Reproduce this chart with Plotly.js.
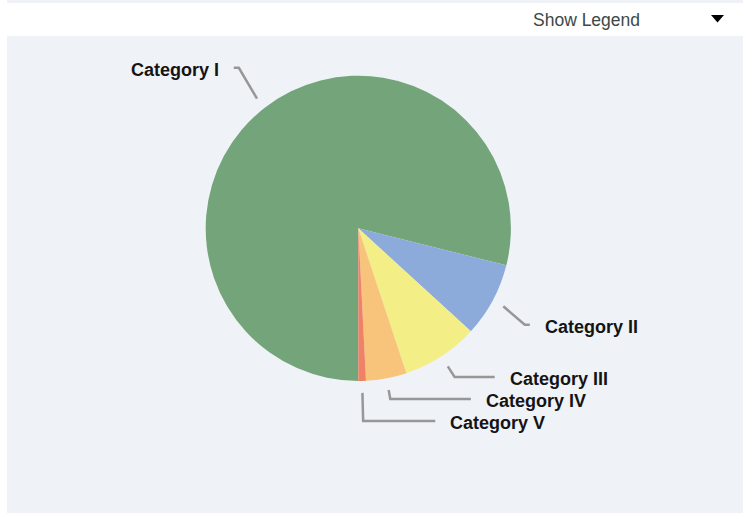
<!DOCTYPE html>
<html>
<head>
<meta charset="utf-8">
<script src="https://cdn.plot.ly/plotly-3.0.1.min.js"></script>
<style>
  html, body { margin: 0; padding: 0; background: #ffffff; }
  #chart { width: 743px; height: 513px; }
</style>
</head>
<body>
<div id="chart"></div>
<script>
// ---- data ----
const categories = ['Category I', 'Category II', 'Category III', 'Category IV', 'Category V'];
const values = [78.9, 7.9, 8.1, 4.3, 0.8];
const sliceColors = ['#74a47a', '#8dabda', '#f3ef86', '#f8c37a', '#ef8266'];

// ---- geometry / style ----
const W = 743, H = 513;
const cx = 358.3, cy = 228.3, R = 152.6;
const startAngle = 180;          // first slice starts at 6 o'clock, clockwise
const lineGap = 12, naturalOff = 51, minSpacing = 22;
const ellA = 193, ellB = 210, stub = 5, textGap = 13;
const lineColor = '#979797';

const px = x => x / W;
const py = y => 1 - y / H;

// compute label layout from data
const total = values.reduce((a, b) => a + b, 0);
let cum = 0;
const items = values.map((v, i) => {
  const mid = startAngle + (cum + v / 2) / total * 360;
  cum += v;
  const t = mid * Math.PI / 180;
  const ux = Math.sin(t), uy = -Math.cos(t);
  return { i, ux, uy, side: ux >= 0 ? 1 : -1, y: cy + (R + naturalOff) * uy };
});
const yMin = cy - R - 40, yMax = cy + R + 40;
[1, -1].forEach(side => {
  const list = items.filter(o => o.side === side).sort((a, b) => a.y - b.y);
  for (let k = 0; k < list.length; k++) {
    if (k === 0) list[k].y = Math.max(list[k].y, yMin);
    else list[k].y = Math.max(list[k].y, list[k - 1].y + minSpacing);
  }
  for (let k = list.length - 1; k >= 0; k--) {
    if (k === list.length - 1) list[k].y = Math.min(list[k].y, yMax);
    else list[k].y = Math.min(list[k].y, list[k + 1].y - minSpacing);
  }
});

const shapes = [
  { type: 'rect', xref: 'paper', yref: 'paper', x0: px(7), x1: 1, y0: py(3), y1: 1,
    fillcolor: '#eff2f7', line: { width: 0 }, layer: 'below' },
  { type: 'rect', xref: 'paper', yref: 'paper', x0: px(7), x1: 1, y0: 0, y1: py(36),
    fillcolor: '#eff2f7', line: { width: 0 }, layer: 'below' },
  { type: 'path', xref: 'paper', yref: 'paper',
    path: `M ${px(711)} ${py(15)} L ${px(724)} ${py(15)} L ${px(717.5)} ${py(22.5)} Z`,
    fillcolor: '#000000', line: { width: 0 } }
];
const annotations = [
  { xref: 'paper', yref: 'paper', x: px(531), y: py(20), xanchor: 'left', yanchor: 'middle',
    text: 'Show Legend', showarrow: false,
    font: { family: 'Liberation Sans, Arial, sans-serif', size: 17.5, color: '#3d4848' } }
];

items.forEach(o => {
  const p1x = cx + (R + lineGap) * o.ux, p1y = cy + (R + lineGap) * o.uy;
  const dy = o.y - cy;
  const ex = cx + o.side * ellA * Math.sqrt(Math.max(0, 1 - (dy / ellB) * (dy / ellB)));
  let bx = Math.abs(o.uy) > 0.02 ? cx + (dy / o.uy) * o.ux : p1x;
  if (o.side > 0) bx = Math.min(bx, ex - stub); else bx = Math.max(bx, ex + stub);
  shapes.push({
    type: 'path', xref: 'paper', yref: 'paper',
    path: `M ${px(p1x)} ${py(p1y)} L ${px(bx)} ${py(o.y)} L ${px(ex)} ${py(o.y)}`,
    line: { color: lineColor, width: 2.5 }
  });
  annotations.push({
    xref: 'paper', yref: 'paper', x: px(ex + o.side * textGap), y: py(o.y),
    xanchor: o.side > 0 ? 'left' : 'right', yanchor: 'middle', yshift: -2,
    text: '<b>' + categories[o.i] + '</b>', showarrow: false,
    font: { family: 'Liberation Sans, Arial, sans-serif', size: 18, color: '#141414' }
  });
});

const trace = {
  type: 'pie',
  labels: categories,
  values: values,
  sort: false,
  direction: 'clockwise',
  rotation: startAngle,
  marker: { colors: sliceColors, line: { width: 0 } },
  textinfo: 'none',
  hoverinfo: 'label+percent',
  showlegend: false,
  domain: { x: [px(cx - R), px(cx + R)], y: [py(cy + R), py(cy - R)] }
};

const layout = {
  width: W, height: H,
  margin: { l: 0, r: 0, t: 0, b: 0, pad: 0 },
  paper_bgcolor: '#ffffff',
  showlegend: false,
  shapes: shapes,
  annotations: annotations
};

Plotly.newPlot('chart', [trace], layout, { displayModeBar: false, staticPlot: true });
</script>
</body>
</html>
